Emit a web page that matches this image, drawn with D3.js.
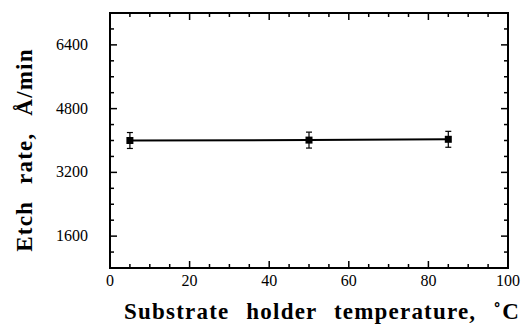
<!DOCTYPE html>
<html>
<head>
<meta charset="utf-8">
<script src="https://cdn.jsdelivr.net/npm/d3@7"></script>
<style>
  body { margin: 0; background: #fff; }
</style>
</head>
<body>
<div class="chart"></div>
<script>
// data
var temps = [5, 50, 85];
var rates = [4000, 4010, 4030];
var errs = [200, 200, 200];
var yTickVals = [1600, 3200, 4800, 6400];
var xTickVals = [0, 20, 40, 60, 80, 100];

var W = 525, H = 327;
var m = {left: 110, right: 17, top: 13, bottom: 59};
var fam = function(){ return "Times New Roman"; };

var svg = d3.select("div.chart").append("svg")
    .attr("width", W).attr("height", H);

var x = d3.scaleLinear().domain([0, 100]).range([m.left, W - m.right]);
var y = d3.scaleLinear().domain([800, 7200]).range([H - m.bottom, m.top]);

var x0 = x(0), x1 = x(100), y0 = y(800), y1 = y(7200);

// frame
svg.append("rect")
    .attr("x", x0).attr("y", y1)
    .attr("width", x1 - x0).attr("height", y0 - y1)
    .attr("fill", "none").attr("stroke", "#000").attr("stroke-width", 2);

//ticks, all pointing inward
var g = svg.append("g").attr("stroke", "#000").attr("stroke-width", 1.5);
d3.range(5, 100, 5).forEach(function(v){
  var len = v % 20 === 0 ? 7 : 4;
  g.append("line").attr("x1", x(v)).attr("x2", x(v)).attr("y1", y0).attr("y2", y0 - len);
  g.append("line").attr("x1", x(v)).attr("x2", x(v)).attr("y1", y1).attr("y2", y1 + len);
});
d3.range(1200, 7200, 400).forEach(function(v){
  var len = v % 1600 === 0 ? 7 : 4;
  g.append("line").attr("y1", y(v)).attr("y2", y(v)).attr("x1", x0).attr("x2", x0 + len);
  g.append("line").attr("y1", y(v)).attr("y2", y(v)).attr("x1", x1).attr("x2", x1 - len);
});

// tick labels
svg.selectAll(".xl").data(xTickVals).enter().append("text")
    .attr("x", function(d){ return x(d); })
    .attr("y", 286)
    .attr("text-anchor", "middle")
    .attr("font-size", 16)
    .style("font-family", fam)
    .text(function(d){ return d; });

svg.selectAll(".yl").data(yTickVals).enter().append("text")
    .attr("x", 88)
    .attr("y", function(d){ return y(d) + 5; })
    .attr("text-anchor", "end")
    .attr("font-size", 16)
    .style("font-family", fam)
    .text(function(d){ return d; });

// axis titles
svg.append("text")
    .attr("x", 322).attr("y", 319)
    .attr("text-anchor", "middle")
    .attr("font-size", 23).attr("font-weight", "bold")
    .attr("word-spacing", 10).attr("letter-spacing", 1.2)
    .style("font-family", fam)
    .text("Substrate holder temperature, \u02DAC");

svg.append("text")
    .attr("transform", "translate(32,150) rotate(-90)")
    .attr("text-anchor", "middle")
    .attr("font-size", 23).attr("font-weight", "bold")
    .attr("word-spacing", 10).attr("letter-spacing", 1.2)
    .style("font-family", fam)
    .text("Etch rate, \u00C5/min");

// data
var pts = temps.map(function(t, i){ return {t: t, r: rates[i], e: errs[i]}; });

svg.append("path")
    .datum(pts)
    .attr("fill", "none").attr("stroke", "#000").attr("stroke-width", 2)
    .attr("d", d3.line().x(function(d){ return x(d.t); }).y(function(d){ return y(d.r); }));

var eb = svg.selectAll(".eb").data(pts).enter().append("g")
    .attr("stroke", "#000").attr("stroke-width", 1.2);
eb.append("line")
    .attr("x1", function(d){ return x(d.t); }).attr("x2", function(d){ return x(d.t); })
    .attr("y1", function(d){ return y(d.r + d.e); }).attr("y2", function(d){ return y(d.r - d.e); });
eb.append("line")
    .attr("x1", function(d){ return x(d.t) - 3; }).attr("x2", function(d){ return x(d.t) + 3; })
    .attr("y1", function(d){ return y(d.r + d.e); }).attr("y2", function(d){ return y(d.r + d.e); });
eb.append("line")
    .attr("x1", function(d){ return x(d.t) - 3; }).attr("x2", function(d){ return x(d.t) + 3; })
    .attr("y1", function(d){ return y(d.r - d.e); }).attr("y2", function(d){ return y(d.r - d.e); });

svg.selectAll(".pt").data(pts).enter().append("rect")
    .attr("x", function(d){ return x(d.t) - 3.5; })
    .attr("y", function(d){ return y(d.r) - 3.5; })
    .attr("width", 7).attr("height", 7)
    .attr("fill", "#000");
</script>
</body>
</html>
